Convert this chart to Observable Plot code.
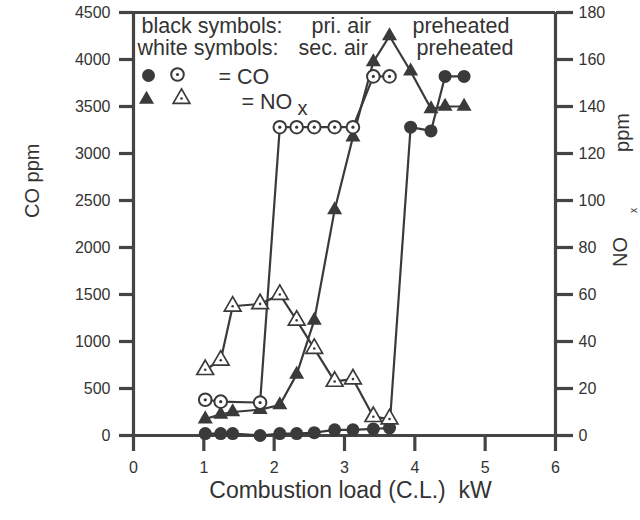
<!DOCTYPE html>
<html>
<head>
<meta charset="utf-8">
<script src="https://cdn.jsdelivr.net/npm/d3@7"></script>
<script src="https://cdn.jsdelivr.net/npm/@observablehq/plot@0.6"></script>
<style>
  body { margin: 0; background: #fff; }
</style>
</head>
<body>
<div id="chart"></div>
<script>
// Combustion load (kW) at which each run was taken
const loadsPrimary = [1.02, 1.24, 1.41, 1.80, 2.08, 2.32, 2.57, 2.86, 3.12, 3.41, 3.64, 3.94, 4.23, 4.43, 4.70];
// primary air preheated: CO (ppm) and NOx (ppm)
const coPrimary  = [20, 20, 20, 0, 20, 20, 30, 60, 60, 70, 80, 3280, 3240, 3820, 3820];
const noxPrimary = [7, 9, 10, 11, 13, 26, 49, 96, 127, 159, 170, 155, 139, 140, 140];

// secondary air preheated
const loadsSecondaryCO  = [1.02, 1.24, 1.80, 2.08, 2.32, 2.57, 2.86, 3.12, 3.41, 3.64];
const coSecondary       = [380, 360, 350, 3280, 3280, 3280, 3280, 3280, 3820, 3820];
const loadsSecondaryNOx = [1.02, 1.24, 1.41, 1.80, 2.08, 2.32, 2.57, 2.86, 3.12, 3.41, 3.64];
const noxSecondary      = [28, 32, 55, 56, 60, 49, 37, 23, 24, 8, 7];

// axis ticks
const xTicks   = [0, 1, 2, 3, 4, 5, 6];
const coTicks  = [0, 500, 1000, 1500, 2000, 2500, 3000, 3500, 4000, 4500];
const noxTicks = [0, 20, 40, 60, 80, 100, 120, 140, 160, 180];

// NOx is drawn against the right-hand axis: 180 ppm NOx spans the same height as 4500 ppm CO
const CO_PER_NOX = 4500 / 180;

const priCO  = loadsPrimary.map((x, i) => ({x, y: coPrimary[i]}));
const priNOx = loadsPrimary.map((x, i) => ({x, y: noxPrimary[i] * CO_PER_NOX}));
const secCO  = loadsSecondaryCO.map((x, i) => ({x, y: coSecondary[i]}));
const secNOx = loadsSecondaryNOx.map((x, i) => ({x, y: noxSecondary[i] * CO_PER_NOX}));

const ink = "#3a3a3a";
const axisInk = "#444";
const textInk = "#333";
const fontSans = "'Liberation Sans', Arial, Helvetica, sans-serif";

// small helper for free-standing text placed relative to the frame
const label = (s, o) => Plot.text([s], {text: d => d, fill: textInk, ...o});

const chart = Plot.plot({
  width: 640,
  height: 520,
  marginLeft: 133,
  marginRight: 85,
  marginTop: 12,
  marginBottom: 85,
  x: {domain: [0, 6]},
  y: {domain: [0, 4500]},
  style: {fontFamily: fontSans, background: "#fff", color: textInk},
  marks: [
    // frame: bottom & top edges, left & right axes
    Plot.ruleY([0, 4500], {stroke: axisInk, strokeWidth: 3.2}),
    Plot.ruleX([0, 6], {stroke: axisInk, strokeWidth: 3.2}),

    Plot.axisX(xTicks, {
      anchor: "bottom", tickSize: 16, tickPadding: 10, fontSize: 16,
      stroke: axisInk, strokeWidth: 3.2, fill: textInk, label: null,
      tickFormat: d => String(d)
    }),
    Plot.axisY(coTicks, {
      anchor: "left", tickSize: 14, tickPadding: 9, fontSize: 16,
      stroke: axisInk, strokeWidth: 3.2, fill: textInk, label: null,
      tickFormat: d => String(d)
    }),
    Plot.axisY(noxTicks.map(v => v * CO_PER_NOX), {
      anchor: "right", tickSize: 17, tickPadding: 6, fontSize: 16,
      stroke: axisInk, strokeWidth: 3.2, fill: textInk, label: null,
      tickFormat: d => String(Math.round(d / CO_PER_NOX))
    }),

    // connecting lines
    Plot.line(priCO,  {x: "x", y: "y", stroke: ink, strokeWidth: 2.2}),
    Plot.line(priNOx, {x: "x", y: "y", stroke: ink, strokeWidth: 2.2}),
    Plot.line(secCO,  {x: "x", y: "y", stroke: ink, strokeWidth: 2.2}),
    Plot.line(secNOx, {x: "x", y: "y", stroke: ink, strokeWidth: 2.2}),

    // black symbols: primary air preheated
    Plot.dot(priCO,  {x: "x", y: "y", r: 6.5, fill: ink}),
    Plot.dot(priNOx, {x: "x", y: "y", r: 5.6, symbol: "triangle", fill: ink}),

    // white symbols: secondary air preheated
    Plot.dot(secCO,  {x: "x", y: "y", r: 6.3, fill: "#fff", stroke: ink, strokeWidth: 2}),
    Plot.dot(secCO,  {x: "x", y: "y", r: 1.6, fill: ink}),
    Plot.dot(secNOx, {x: "x", y: "y", r: 6.2, symbol: "triangle", fill: "#fff", stroke: ink, strokeWidth: 1.7}),
    Plot.dot(secNOx, {x: "x", y: "y", r: 1.3, fill: ink}),

    // legend
    label("black symbols:", {frameAnchor: "top-left", dx: 8,   dy: 20, textAnchor: "start", lineAnchor: "bottom", fontSize: 21.5}),
    label("pri. air",       {frameAnchor: "top-left", dx: 178, dy: 20, textAnchor: "start", lineAnchor: "bottom", fontSize: 21.5}),
    label("preheated",      {frameAnchor: "top-left", dx: 279, dy: 20, textAnchor: "start", lineAnchor: "bottom", fontSize: 21.5}),
    label("white symbols:", {frameAnchor: "top-left", dx: 4,   dy: 42, textAnchor: "start", lineAnchor: "bottom", fontSize: 21.5}),
    label("sec. air",       {frameAnchor: "top-left", dx: 165, dy: 42, textAnchor: "start", lineAnchor: "bottom", fontSize: 21.5}),
    label("preheated",      {frameAnchor: "top-left", dx: 283, dy: 42, textAnchor: "start", lineAnchor: "bottom", fontSize: 21.5}),

    Plot.dot([0], {frameAnchor: "top-left", dx: 15, dy: 63, r: 6.5, fill: ink}),
    Plot.dot([0], {frameAnchor: "top-left", dx: 44, dy: 62, r: 6.3, fill: "#fff", stroke: ink, strokeWidth: 2}),
    Plot.dot([0], {frameAnchor: "top-left", dx: 44, dy: 62, r: 1.6, fill: ink}),
    Plot.dot([0], {frameAnchor: "top-left", dx: 13, dy: 87, r: 5.6, symbol: "triangle", fill: ink}),
    Plot.dot([0], {frameAnchor: "top-left", dx: 48, dy: 86, r: 6.2, symbol: "triangle", fill: "#fff", stroke: ink, strokeWidth: 1.7}),
    Plot.dot([0], {frameAnchor: "top-left", dx: 48, dy: 86, r: 1.3, fill: ink}),
    label("= CO", {frameAnchor: "top-left", dx: 85,  dy: 71,  textAnchor: "start", lineAnchor: "bottom", fontSize: 21.5}),
    label("= NO", {frameAnchor: "top-left", dx: 108, dy: 96,  textAnchor: "start", lineAnchor: "bottom", fontSize: 21.5}),
    label("x",    {frameAnchor: "top-left", dx: 164, dy: 102, textAnchor: "start", lineAnchor: "bottom", fontSize: 20}),

    // axis titles
    label("CO ppm", {frameAnchor: "left", dx: -101, dy: -6, rotate: -90, fontSize: 20}),
    label("NO",  {frameAnchor: "right", dx: 65, dy: 13, rotate: -90, fontSize: 20}),
    label("x",   {frameAnchor: "right", dx: 78, dy: -16, rotate: -90, fontSize: 10}),
    label("ppm", {frameAnchor: "right", dx: 67, dy: -111, rotate: -90, fontSize: 20}),
    label("Combustion load (C.L.)\u00a0\u00a0kW", {frameAnchor: "bottom", dx: 6, dy: 62, fontSize: 23})
  ]
});

document.getElementById("chart").append(chart);
</script>
</body>
</html>
